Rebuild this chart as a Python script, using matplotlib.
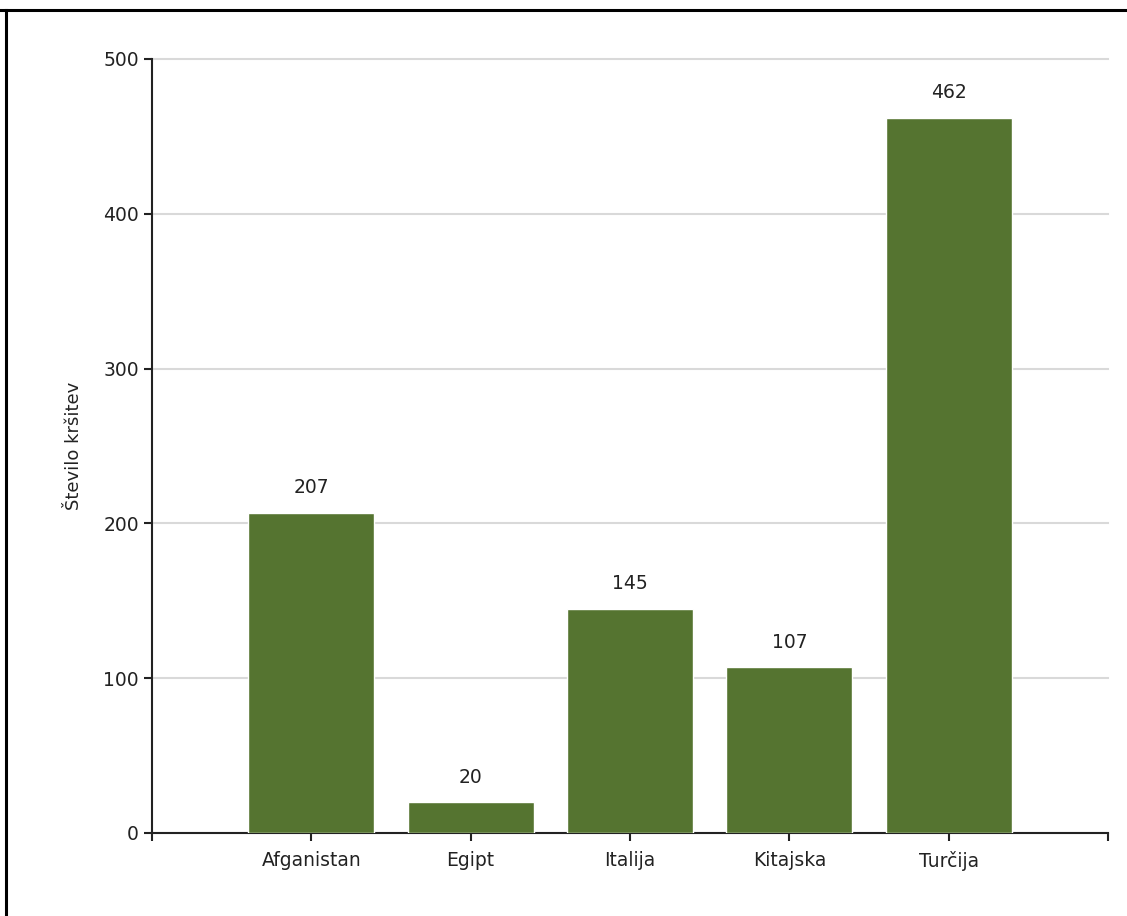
import numpy as np
import matplotlib.pyplot as plt
from matplotlib.lines import Line2D

# Data
categories = ["Afganistan", "Egipt", "Italija", "Kitajska", "Turčija"]
values = [207, 20, 145, 107, 462]
y_ticks = [0, 100, 200, 300, 400, 500]

bar_color = "#557430"

fig = plt.figure(figsize=(11.27, 9.16), dpi=100)
ax = fig.add_axes([152 / 1127, 1 - 833 / 916, 956 / 1127, 774 / 916])

x = np.arange(1, len(categories) + 1)
bars = ax.bar(x, values, width=0.79, color=bar_color, edgecolor="white",
              linewidth=1.0, zorder=3)

# value labels above the bars
for xi, v in zip(x, values):
    ax.text(xi, v + 10, str(v), ha="center", va="bottom", fontsize=13.5,
            color="#222222")

ax.set_xlim(0, len(categories) + 1)
ax.set_ylim(0, 500)
ax.set_yticks(y_ticks)
ax.set_xticks(np.arange(0, len(categories) + 2))
ax.set_xticklabels([""] + categories + [""])

ax.yaxis.grid(True, color="#d9d9d9", linewidth=1.5, zorder=0)
for gl in ax.get_ygridlines():
    gl.set_clip_on(False)
ax.set_axisbelow(True)

for side in ["top", "right"]:
    ax.spines[side].set_visible(False)
for side in ["left", "bottom"]:
    ax.spines[side].set_linewidth(1.5)
    ax.spines[side].set_color("#222222")

ax.tick_params(axis="both", direction="out", length=6, width=1.5,
               color="#222222", labelsize=13.5, labelcolor="#222222")
ax.tick_params(axis="x", pad=7)

ax.set_ylabel("Število kršitev", fontsize=13, color="#222222")
ax.yaxis.set_label_coords(-0.072, 0.5)

# frame lines of the original screenshot
fig.add_artist(Line2D([0, 1], [1 - 10 / 916, 1 - 10 / 916], color="black",
                      linewidth=2.2, transform=fig.transFigure))
fig.add_artist(Line2D([6 / 1127, 6 / 1127], [0, 1 - 10 / 916], color="black",
                      linewidth=2.2, transform=fig.transFigure))

fig.savefig("out.png", dpi=100)
